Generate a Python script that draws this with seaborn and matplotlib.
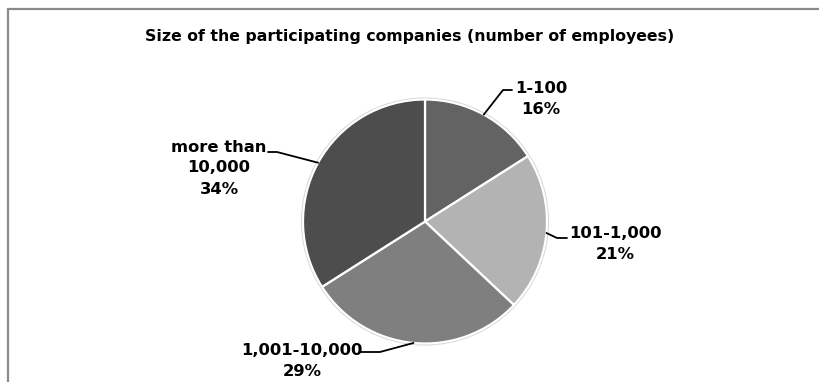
import numpy as np
import matplotlib
matplotlib.use("Agg")
import matplotlib.pyplot as plt
from matplotlib.patches import Rectangle, Circle
import seaborn as sns

# Company size distribution (share of participants, %)
size_classes = ["1-100", "101-1,000", "1,001-10,000", "more than\n10,000"]
shares = [16, 21, 29, 34]
title = "Size of the participating companies (number of employees)"

sns.set_theme(style="white")
plt.rcParams["font.family"] = ["DejaVu Sans"]

W, H = 819, 382
fig = plt.figure(figsize=(W / 100, H / 100), dpi=100)
ax = fig.add_axes([0, 0, 1, 1])
ax.set_xlim(0, W)
ax.set_ylim(0, H)
ax.set_axis_off()

# chart area frame
ax.add_patch(Rectangle((8, -20), W + 20, H - 9 + 20, fill=False,
                       edgecolor="#8a8a8a", linewidth=1.6, zorder=0))

greys = sns.color_palette(["#636363", "#b3b3b3", "#7f7f7f", "#4d4d4d"])

cx, cy, r = 425, H - 221.5, 122
ax.add_patch(Circle((cx, cy), r + 2.0, facecolor="#d4d4d4", edgecolor="none", zorder=1))
wedges, _ = ax.pie(shares, colors=greys, startangle=90, counterclock=False,
                   center=(cx, cy), radius=r, frame=True,
                   wedgeprops=dict(edgecolor="white", linewidth=1.6))
for w in wedges:
    w.set_zorder(2)
ax.set_xlim(0, W)
ax.set_ylim(0, H)
ax.set_axis_off()

# label layout: elbow point, end of horizontal tick, text centre
layout = [
    dict(elbow=(503, 90), end=(512, 90), text=(541, 99)),
    dict(elbow=(557, 238), end=(567, 238), text=(615, 244)),
    dict(elbow=(380, 352), end=(361, 352), text=(302, 361)),
    dict(elbow=(277, 152), end=(268, 152), text=(219, 168)),
]

cum = np.cumsum([0] + shares[:-1])
for label, val, c0, lay in zip(size_classes, shares, cum, layout):
    mid = np.deg2rad(90 - 3.6 * (c0 + val / 2))
    ex, ey = cx + r * np.cos(mid), cy + r * np.sin(mid)
    (bx, by), (tx, ty), (lx, ly) = lay["elbow"], lay["end"], lay["text"]
    ax.plot([ex, bx, tx], [ey, H - by, H - ty], color="black", lw=1.3, zorder=3)
    ax.text(lx, H - ly, f"{label}\n{val}%", ha="center", va="center",
            fontsize=11.8, fontweight="bold", color="black",
            linespacing=1.5, zorder=4)

ax.text(410, H - 36, title, ha="center", va="center", fontsize=11.3,
        fontweight="bold", color="black")

fig.savefig("out.png", dpi=100)
